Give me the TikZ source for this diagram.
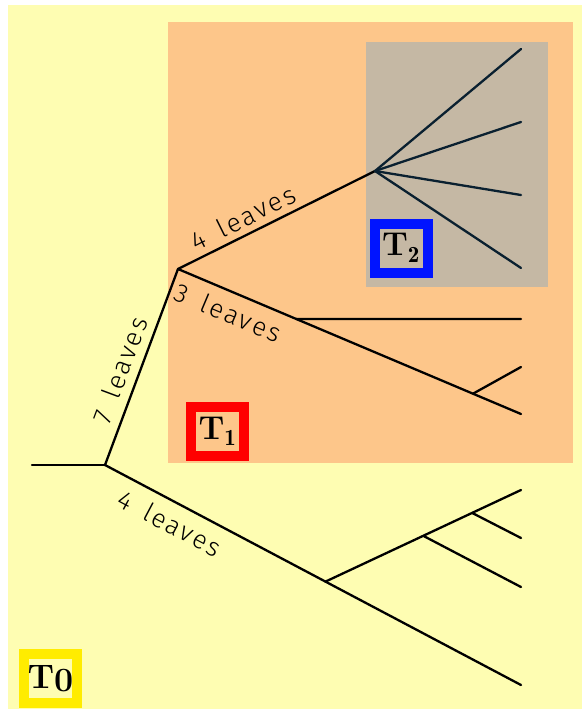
\documentclass[tikz,border=0pt]{standalone}
\usepackage{fontspec}
\usepackage{xcolor}
\usepackage{tikz}
\usetikzlibrary{positioning, calc}
\newfontfamily\handfont[LetterSpace=9, WordSpace=1.6]{Fira Sans Light}

\definecolor{bgyellow}{RGB}{254,253,178}
\definecolor{suborange}{RGB}{253,198,138}
\definecolor{subgray}{RGB}{197,184,164}
\definecolor{darkbranch}{RGB}{10,32,48}
\definecolor{zeroyellow}{RGB}{255,236,0}
\definecolor{onered}{RGB}{255,0,0}
\definecolor{twoblue}{RGB}{0,20,255}

\tikzset{
  branch/.style={line width=2.3pt, line cap=round},
  leafcount/.style={font=\handfont\fontsize{26}{26}\selectfont, sloped, inner sep=2pt},
  treetag/.style={line width=10pt, minimum width=53pt, minimum height=49pt,
    inner sep=0pt, font=\fontsize{33}{33}\selectfont\bfseries}
}

\begin{document}
\begin{tikzpicture}[x=1pt, y=-1pt]
  \useasboundingbox (0,0) rectangle (582,709);

  % ── Backgrounds ──
  \fill[bgyellow] (8,5) rectangle (582,709);
  \fill[suborange] (168,22) rectangle (573,463);
  \fill[subgray] (366,42) rectangle (548,287);

  % ── Branch points ──
  \coordinate (root) at (32,465);
  \coordinate (n7) at (105,465);
  \coordinate (split) at (178,269);
  \coordinate (hub) at (375,171);
  \coordinate (l3c) at (521,414);
  \coordinate (l4d) at (521,685);

  % root and 7 leaves
  \draw[branch] (root) -- (n7);
  \draw[branch] (n7) -- node[leafcount, above=6pt, pos=0.45] {7 leaves} (split);

  % 4 leaves (T2)
  \draw[branch] (split) -- node[leafcount, above=4pt, pos=0.37] {4 leaves} (hub);
  \foreach \i/\y in {1/49, 2/122, 3/195, 4/268} {
    \coordinate (leaf\i) at (521,\y);
    \draw[branch, darkbranch] (hub) -- (leaf\i);
  }

  % 3 leaves
  \draw[branch] (split) -- node[leafcount, below=8pt, pos=0.17] {3 leaves} (l3c);
  \coordinate (j1) at ($(split)!0.345!(l3c)$);
  \coordinate (j2) at ($(split)!0.86!(l3c)$);
  \coordinate (l3a) at (521,319);
  \coordinate (l3b) at (521,367);
  \draw[branch] (j1) -- (l3a);
  \draw[branch] (j2) -- (l3b);

  % lower 4 leaves
  \draw[branch] (n7) -- node[leafcount, below=8pt, pos=0.18] {4 leaves} (l4d);
  \coordinate (k1) at ($(n7)!0.53!(l4d)$);
  \coordinate (l4a) at (521,490);
  \coordinate (l4b) at (521,538);
  \coordinate (l4c) at (521,587);
  \coordinate (k2) at ($(k1)!0.5!(l4a)$);
  \coordinate (k3) at ($(k1)!0.75!(l4a)$);
  \draw[branch] (k1) -- (l4a);
  \draw[branch] (k2) -- (l4c);
  \draw[branch] (k3) -- (l4b);

  % ── Tree tags ──
  \node[treetag, draw=onered] (tone) at (217.5,431.5) {T$_{\mathbf{1}}$};
  \node[treetag, draw=twoblue] (ttwo) at (401,248) {T$_{\mathbf{2}}$};
  \node[treetag, draw=zeroyellow, font=\fontsize{34}{34}\selectfont\bfseries]
    (tzero) at (50.5,678.5) {T\raisebox{-3pt}{0}};
\end{tikzpicture}
\end{document}
